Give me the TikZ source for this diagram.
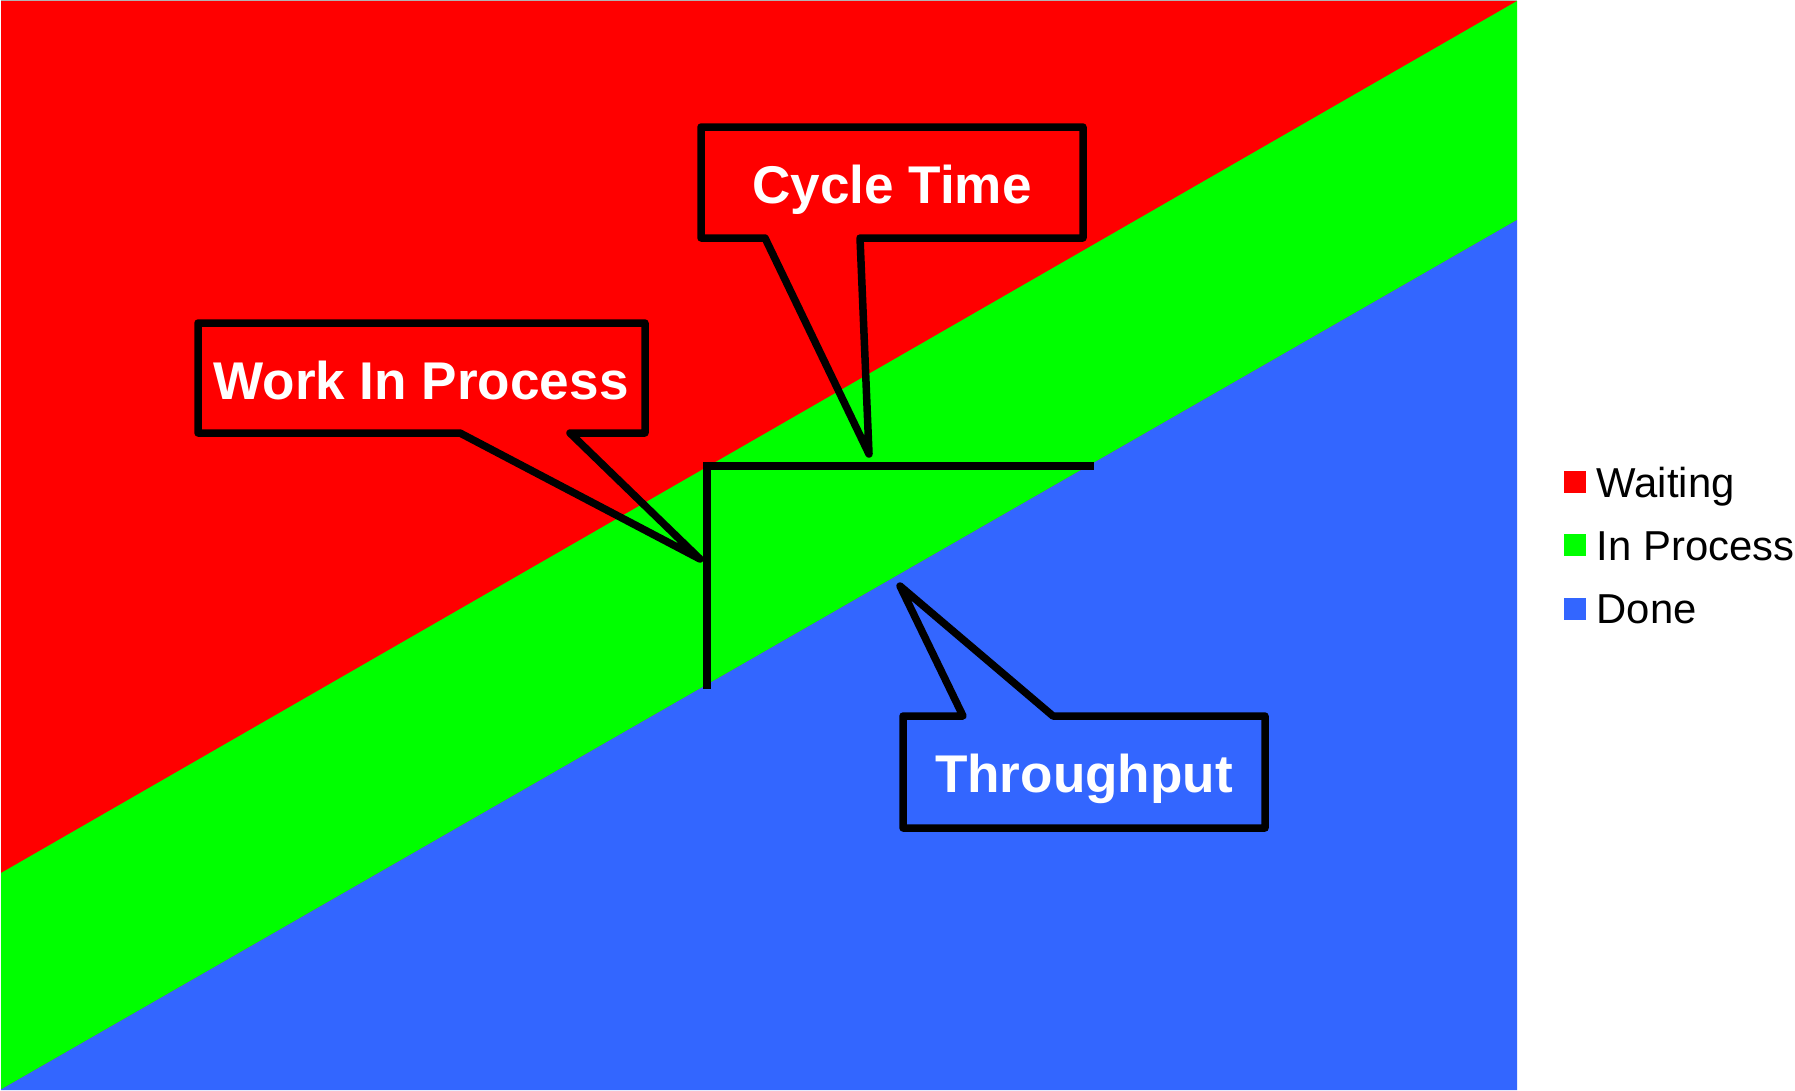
\documentclass[tikz,border=0pt]{standalone}
\usepackage{fontspec}
\setmainfont{Liberation Sans}
\definecolor{cwait}{HTML}{FF0000}
\definecolor{cproc}{HTML}{00FF00}
\definecolor{cdone}{HTML}{3366FF}
\tikzset{
  callout/.style={draw=black, line width=7.5*0.01cm, line join=round},
  bracketline/.style={draw=black, line width=7.5*0.01cm, line cap=butt, line join=miter},
  calltext/.style={text=white, inner sep=0pt, anchor=base, font=\fontsize{15.1}{18}\selectfont\bfseries},
  legtext/.style={text=black, inner sep=0pt, anchor=base west, font=\fontsize{11.9}{14}\selectfont},
  legbox/.style={inner sep=0pt, minimum size=22*0.01cm, anchor=south west}
}
\begin{document}
\begin{tikzpicture}[x=0.01cm, y=-0.01cm]
\useasboundingbox (0,0) rectangle (1795,1090);
\fill[white] (0,0) rectangle (1795,1090);
% bands
\fill[cwait] (1,1) rectangle (1517,1090);
\fill[cproc] (1517,1) -- (1517,220) -- (1,1089.5) -- (1,873) -- cycle;
\fill[cdone] (1517,220) -- (1517,1090) -- (1,1090) -- (1,1089.5) -- cycle;
\draw[gray!60, line width=0.01cm] (1,0.5) -- (1517,0.5);
% bracket
\coordinate (bv) at (707,689);
\coordinate (bc) at (707,466);
\coordinate (bh) at (1094,466);
\draw[bracketline] (bv) -- (bc) -- (bh);
% callout texts
\node[calltext] (ct) at (892,203) {Cycle Time};
\node[calltext] (wip) at (421,399) {Work In Process};
\node[calltext] (tp) at (1084,792) {Throughput};
% callout outlines
\draw[callout] (701,127) -- (1083,127) -- (1083,238) -- (860,238) -- (869,454) -- (765,238) -- (701,238) -- cycle;
\draw[callout] (198,323) -- (645,323) -- (645,433) -- (570,433) -- (700,559) -- (460,433) -- (198,433) -- cycle;
\draw[callout] (903,716) -- (963,716) -- (900,586) -- (1053,716) -- (1265,716) -- (1265,828) -- (903,828) -- cycle;
% legend
\node[legbox, fill=cwait] (lw) at (1563,494) {};
\node[legbox, fill=cproc] (lp) at (1563,557) {};
\node[legbox, fill=cdone] (ld) at (1563,621) {};
\node[legtext] (tw) at (1596,497) {Waiting};
\node[legtext] (tpr) at (1596,560) {In Process};
\node[legtext] (td) at (1596,623) {Done};
\end{tikzpicture}
\end{document}
